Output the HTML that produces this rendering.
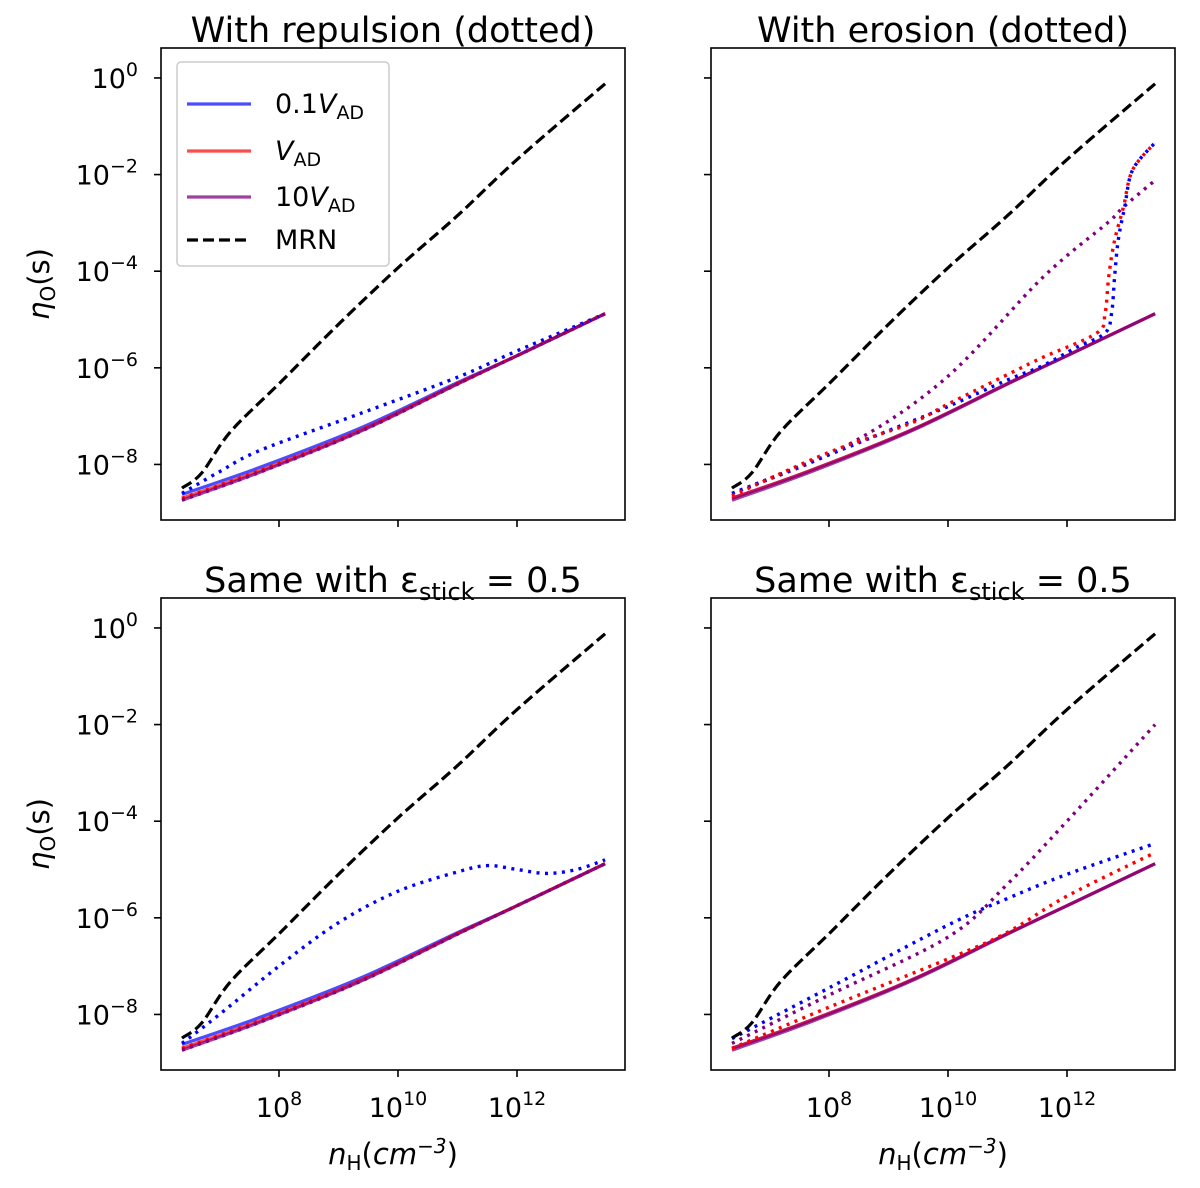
<!DOCTYPE html>
<html><head><meta charset="utf-8"><style>
body{margin:0;background:#fff}
svg{display:block;font-family:"DejaVu Sans","Liberation Sans",sans-serif}
</style></head><body>
<svg id="fig" width="1200" height="1188" viewBox="0 0 1200 1188"></svg>
<script>
const xTicks=[8,10,12];
const xTickLabels=["10","10","10"];
const yTicks=[0,-2,-4,-6,-8];
const titles=["With repulsion (dotted)","With erosion (dotted)","Same with ε","Same with ε"];
// log10 x values, log10 y values
const mrnX=[6.37,6.7,7.18,8,9,10,11,12,13.48];
const mrnY=[-8.49,-8.18,-7.33,-6.33,-5.1,-3.93,-2.85,-1.69,-0.12];
const solX=[6.37,7.7,9.38,11.01,12,13.48];
const solBlueY=[-8.62,-8.05,-7.24,-6.3,-5.75,-4.88];
const solRedY=[-8.7,-8.12,-7.29,-6.32,-5.75,-4.88];
const solPurpY=[-8.74,-8.15,-7.31,-6.33,-5.75,-4.88];
// panel 0 dotted
const p0BlueX=[6.37,7,7.7,9.38,11.01,12,13.48];
const p0BlueY=[-8.6,-8.15,-7.7,-6.94,-6.19,-5.65,-4.88];
// panel 1 dotted
const p1PurpX=[6.37,8.25,9.93,11.6,12.68,12.95,13.45];
const p1PurpY=[-8.6,-7.64,-6.25,-4.12,-3.0,-2.67,-2.15];
const p1RedX=[6.37,8,9.37,10,11.05,11.6,12.5,12.64,12.7,12.8,12.95,13.1,13.47];
const p1RedY=[-8.65,-7.75,-7.15,-6.75,-6.11,-5.78,-5.28,-4.87,-4.12,-3.36,-2.67,-1.91,-1.35];
const p1BlueX=[6.37,8,9,10,11,11.6,12.17,12.64,12.75,12.8,12.86,12.97,13.1,13.47];
const p1BlueY=[-8.6,-7.8,-7.3,-6.8,-6.25,-5.95,-5.57,-5.28,-4.87,-4.12,-3.36,-2.67,-1.91,-1.35];
// panel 2 dotted
const p2BlueX=[6.37,7,8,9,10,11,11.5,12,12.5,13,13.48];
const p2BlueY=[-8.6,-8.0,-7.0,-6.1,-5.45,-5.05,-4.92,-5.0,-5.08,-5.0,-4.8];
// panel 3 dotted
const p3X=[6.37,8,10,11,12,13.48];
const p3BlueY=[-8.5,-7.45,-6.15,-5.6,-5.1,-4.46];
const p3RedY=[-8.7,-7.85,-6.85,-6.3,-5.55,-4.65];
const p3PurpY=[-8.6,-7.6,-6.4,-5.3,-4.0,-2.0];

const NS="http://www.w3.org/2000/svg";
const svg=document.getElementById('fig');
function el(t,a,p){const e=document.createElementNS(NS,t);for(const k in a)e.setAttribute(k,a[k]);(p||svg).appendChild(e);return e;}
const panels=[{x0:161,y0:48},{x0:711,y0:48},{x0:161,y0:598},{x0:711,y0:598}];
const W=464,H=472,XMIN=6.017,XMAX=13.815,YMIN=-9.15,YMAX=0.62;
function path(sx,sy,xs,ys){
  const p=xs.map((x,i)=>[sx(x),sy(ys[i])]);
  let d="M"+p[0][0].toFixed(1)+","+p[0][1].toFixed(1);
  for(let i=0;i<p.length-1;i++){
    const a=p[Math.max(0,i-1)],b=p[i],c=p[i+1],e=p[Math.min(p.length-1,i+2)];
    const c1=[b[0]+(c[0]-a[0])/6,b[1]+(c[1]-a[1])/6],c2=[c[0]-(e[0]-b[0])/6,c[1]-(e[1]-b[1])/6];
    d+=` C${c1[0].toFixed(1)},${c1[1].toFixed(1)} ${c2[0].toFixed(1)},${c2[1].toFixed(1)} ${c[0].toFixed(1)},${c[1].toFixed(1)}`;
  }
  return d;
}
panels.forEach((P,pi)=>{
  const g=el('g',{});
  
  
  const sx=v=>P.x0+(v-XMIN)/(XMAX-XMIN)*W;
  const sy=v=>P.y0+(YMAX-v)/(YMAX-YMIN)*H;
  const line=(xs,ys,color,extra,name)=>{
    const e=el('path',Object.assign({d:path(sx,sy,xs,ys),stroke:color,fill:"none","stroke-width":3.2},extra),g);
    
    
  };
  const dot={"stroke-dasharray":"3,5.5","stroke-width":3.4};
  line(solX,pi==0||pi==2?solBlueY:solRedY,"rgba(0,0,255,0.7)",{},'solid-0.1vad');
  line(solX,solRedY,"rgba(255,0,0,0.7)",{},'solid-vad');
  line(solX,solPurpY,"rgba(128,0,128,0.75)",{},'solid-10vad');
  if(pi==0){line(p0BlueX,p0BlueY,"#00f",dot,'dotted-0.1vad');line(solX,solRedY,"#f00",dot,'dotted-vad');line(solX,solPurpY,"#800080",dot,'dotted-10vad');}
  if(pi==1){line(p1PurpX,p1PurpY,"#800080",dot,'dotted-10vad');line(p1BlueX,p1BlueY,"#00f",dot,'dotted-0.1vad');line(p1RedX,p1RedY,"#f00",dot,'dotted-vad');}
  if(pi==2){line(p2BlueX,p2BlueY,"#00f",dot,'dotted-0.1vad');line(solX,solRedY,"#f00",dot,'dotted-vad');line(solX,solPurpY,"#800080",dot,'dotted-10vad');}
  if(pi==3){line(p3X,p3PurpY,"#800080",dot,'dotted-10vad');line(p3X,p3BlueY,"#00f",dot,'dotted-0.1vad');line(p3X,p3RedY,"#f00",dot,'dotted-vad');}
  line(mrnX,mrnY,"#000",{"stroke-dasharray":"11,5","stroke-width":3.2},'mrn-dashed');
  const fr=el('rect',{x:P.x0,y:P.y0,width:W,height:H,fill:"none",stroke:"#000","stroke-width":1.6},g);
  
  xTicks.forEach((t,i)=>{
    el('line',{x1:sx(t),x2:sx(t),y1:P.y0+H,y2:P.y0+H+7,stroke:"#000","stroke-width":1.6},g);
    if(pi>=2){const tx=el('text',{x:sx(t),y:P.y0+H+47,"font-size":27,"text-anchor":"middle"},g);
      
      tx.textContent=xTickLabels[i];const s=el('tspan',{dy:-12,"font-size":19},tx);s.textContent=t;}
  });
  yTicks.forEach(t=>{
    el('line',{x1:P.x0-7,x2:P.x0,y1:sy(t),y2:sy(t),stroke:"#000","stroke-width":1.6},g);
    if(pi%2==0){const tx=el('text',{x:P.x0-23,y:sy(t)+10,"font-size":27,"text-anchor":"end"},g);
      
      tx.textContent="10";const s=el('tspan',{dy:-12,"font-size":19},tx);s.textContent=t==0?"0":"−"+(-t);}
  });
  const ti=el('text',{x:P.x0+W/2,y:P.y0-6,"font-size":35,"text-anchor":"middle"},g);
  
  ti.textContent=titles[pi];
  if(pi>=2){const a=el('tspan',{"font-size":24,dy:8},ti);a.textContent="stick";const b=el('tspan',{dy:-8},ti);b.textContent=" = 0.5";
    const xl=el('text',{x:P.x0+W/2,y:P.y0+H+94,"font-size":29,"text-anchor":"middle"},g);
    
    xl.innerHTML='<tspan font-style="italic">n</tspan><tspan font-size="20" dy="6">H</tspan><tspan dy="-6">(</tspan><tspan font-style="italic">cm</tspan><tspan font-size="20" dy="-11" font-style="italic">−3</tspan><tspan dy="11">)</tspan>';}
  if(pi%2==0){const yl=el('text',{transform:`translate(${P.x0-112},${P.y0+H/2}) rotate(-90)`,"font-size":29,"text-anchor":"middle"},g);
    
    yl.innerHTML='<tspan font-style="italic">η</tspan><tspan font-size="20" dy="6">O</tspan><tspan dy="-6">(s)</tspan>';}
});
const lg=el('g',{});


el('rect',{x:177,y:62,width:212,height:204,rx:4,fill:"#fff","fill-opacity":0.8,stroke:"#ccc","stroke-width":1.5},lg);
const legItems=[["rgba(0,0,255,0.7)","",104,'0.1<tspan font-style="italic">V</tspan><tspan font-size="19" dy="6">AD</tspan>'],["rgba(255,0,0,0.7)","",151,'<tspan font-style="italic">V</tspan><tspan font-size="19" dy="6">AD</tspan>'],["rgba(128,0,128,0.75)","",197,'10<tspan font-style="italic">V</tspan><tspan font-size="19" dy="6">AD</tspan>'],["#000","11,5",240,'MRN']];
legItems.forEach(it=>{
  const e=el('line',{x1:187,x2:251,y1:it[2],y2:it[2],stroke:it[0],"stroke-width":3.2,"stroke-dasharray":it[1]||"none"},lg);
  
  const t=el('text',{x:275,y:it[2]+9,"font-size":27},lg);
  
  t.innerHTML=it[3];
});
</script>
</body></html>
